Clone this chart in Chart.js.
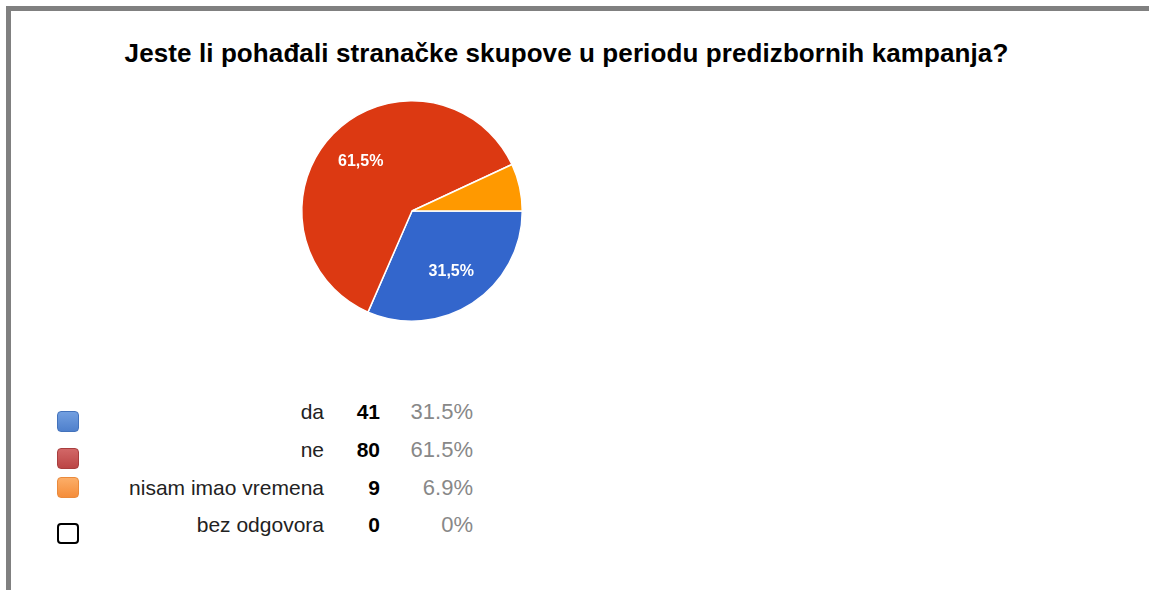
<!DOCTYPE html>
<html>
<head>
<meta charset="utf-8">
<script src="https://cdn.jsdelivr.net/npm/chart.js@4/dist/chart.umd.min.js"></script>
<style>
  body { margin: 0; width: 1149px; height: 590px; background: #fff; position: relative; overflow: hidden; font-family: "Liberation Sans", Arial, sans-serif; }
  .frame-top { position: absolute; left: 6px; top: 6px; width: 1143px; height: 5px; background: #808080; }
  .frame-left { position: absolute; left: 6px; top: 6px; width: 5px; height: 584px; background: #808080; }
  .title { position: absolute; left: 0; width: 1133px; top: 38px; text-align: center; font-weight: bold; font-size: 26px; letter-spacing: 0.1px; color: #000; }
  #pie { position: absolute; left: 292px; top: 91px; }
  .row { position: absolute; left: 0; width: 1149px; height: 24px; line-height: 24px; font-size: 21px; }
  .row span { position: absolute; top: 0; white-space: nowrap; }
  .swatch { position: absolute; left: 57px; width: 22px; height: 21px; border-radius: 4px; box-sizing: border-box; }
</style>
</head>
<body>
<div class="frame-top"></div>
<div class="frame-left"></div>
<div class="title">Jeste li pohađali stranačke skupove u periodu predizbornih kampanja?</div>
<canvas id="pie" width="240" height="240"></canvas>
<div id="legend"></div>
<script>
const labels = ["da", "ne", "nisam imao vremena", "bez odgovora"];
const counts = [41, 80, 9, 0];
const pieColors = ["#3366cc", "#dc3912", "#ff9900", "#ffffff"];
const swatchFill = ["linear-gradient(#729fe0, #4f80cc)", "linear-gradient(#d26767, #bb4545)", "linear-gradient(#fcae68, #f58d3a)", "#ffffff"];
const swatchBorder = ["#4372bb", "#a83e3e", "#ea8a3c", "#000000"];

const total = counts.reduce((a, b) => a + b, 0);

// postoci na kriskama (google stil, zarez)
const sliceLabels = {
  id: "sliceLabels",
  afterDatasetsDraw(chart) {
    const { ctx } = chart;
    const meta = chart.getDatasetMeta(0);
    meta.data.forEach((arc, i) => {
      const pct = counts[i] / total;
      if (pct < 0.1) return;
      const mid = (arc.startAngle + arc.endAngle) / 2;
      const r = arc.outerRadius * 0.65;
      const x = arc.x + Math.cos(mid) * r;
      const y = arc.y + Math.sin(mid) * r;
      ctx.save();
      ctx.fillStyle = "#fff";
      ctx.font = "bold 16px 'Liberation Sans', Arial, sans-serif";
      ctx.textAlign = "center";
      ctx.textBaseline = "middle";
      ctx.fillText((pct * 100).toFixed(1).replace(".", ",") + "%", x, y + 1);
      ctx.restore();
    });
  },
};

new Chart(document.getElementById("pie").getContext("2d"), {
  type: "pie",
  data: {
    labels: labels,
    datasets: [
      {
        data: counts,
        backgroundColor: pieColors,
        borderColor: "#fff",
        borderWidth: 1.5,
      },
    ],
  },
  options: {
    responsive: false,
    animation: false,
    rotation: 90,
    layout: { padding: 9 },
    plugins: {
      legend: { display: false },
      tooltip: { enabled: false },
    },
  },
  plugins: [sliceLabels],
});

// legenda ispod grafa
const rowTops = [400, 438, 476, 513];
const swatchTops = [411, 448, 477, 523];
const legendEl = document.getElementById("legend");
for (let i = 0; i < labels.length; i++) {
  const sw = document.createElement("div");
  sw.className = "swatch";
  sw.style.top = swatchTops[i] + "px";
  sw.style.background = swatchFill[i];
  sw.style.border = (i === 3 ? 2 : 1) + "px solid " + swatchBorder[i];
  legendEl.appendChild(sw);

  const row = document.createElement("div");
  row.className = "row";
  row.style.top = rowTops[i] + "px";
  const name = document.createElement("span");
  name.innerText = labels[i];
  name.style.right = 1149 - 324 + "px";
  name.style.color = "#222";
  const cnt = document.createElement("span");
  cnt.innerText = counts[i];
  cnt.style.right = 1149 - 380 + "px";
  cnt.style.fontWeight = "bold";
  const pc = document.createElement("span");
  const p = (counts[i] / total) * 100;
  pc.innerText = (p === 0 ? "0" : p.toFixed(1)) + "%";
  pc.style.right = 1149 - 473 + "px";
  pc.style.color = "#888";
  pc.style.fontSize = "22px";
  row.appendChild(name);
  row.appendChild(cnt);
  row.appendChild(pc);
  legendEl.appendChild(row);
}
</script>
</body>
</html>
